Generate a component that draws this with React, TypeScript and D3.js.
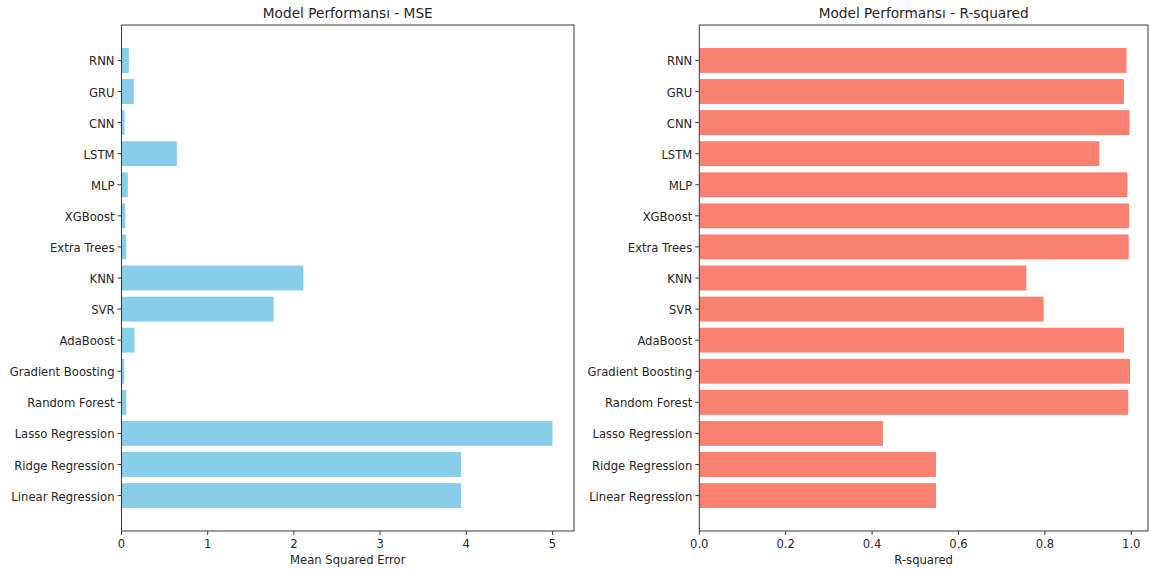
import React from "react";
import * as d3 from "d3";

const models = [
  "Linear Regression",
  "Ridge Regression",
  "Lasso Regression",
  "Random Forest",
  "Gradient Boosting",
  "AdaBoost",
  "SVR",
  "KNN",
  "Extra Trees",
  "XGBoost",
  "MLP",
  "LSTM",
  "CNN",
  "GRU",
  "RNN",
];

const mseValues = [3.94, 3.94, 5.0, 0.055, 0.031, 0.151, 1.765, 2.11, 0.055, 0.043, 0.073, 0.642, 0.035, 0.143, 0.085];
const r2Values = [0.548, 0.548, 0.425, 0.993, 0.997, 0.983, 0.797, 0.757, 0.994, 0.995, 0.991, 0.926, 0.996, 0.983, 0.989];

const mseTicks = [0, 1, 2, 3, 4, 5];
const r2Ticks = [0, 0.2, 0.4, 0.6, 0.8, 1.0];

const W = 1150;
const H = 572;
const TOP = 25;
const BOTTOM = 531;
const FONT = "DejaVu Sans, sans-serif";

type PanelProps = {
  x0: number;
  x1: number;
  values: number[];
  ticks: number[];
  domainMax: number;
  color: string;
  title: string;
  xlabel: string;
  fmt: (v: number) => string;
};

function Panel({ x0, x1, values, ticks, domainMax, color, title, xlabel, fmt }: PanelProps) {
  const x = d3.scaleLinear().domain([0, domainMax]).range([x0, x1]);
  // matplotlib-like y limits: categories 0..n-1, bars +-0.4, 5% margins
  const n = models.length;
  const lo = -0.4 - 0.05 * (n - 1 + 0.8);
  const hi = n - 1 + 0.4 + 0.05 * (n - 1 + 0.8);
  const y = d3.scaleLinear().domain([lo, hi]).range([BOTTOM, TOP]);
  const bandH = Math.abs(y(0.8) - y(0));
  const textColor = "#262626";
  const spine = "#3a3a3a";
  return (
    <g>
      {models.map((m, i) => (
        <rect
          key={m}
          x={x(0)}
          y={y(i + 0.4)}
          width={x(values[i]) - x(0)}
          height={bandH}
          fill={color}
        />
      ))}
      <rect x={x0} y={TOP} width={x1 - x0} height={BOTTOM - TOP} fill="none" stroke={spine} strokeWidth={1} />
      {models.map((m, i) => (
        <g key={m}>
          <line x1={x0 - 4} x2={x0} y1={y(i)} y2={y(i)} stroke={spine} strokeWidth={1} />
          <text x={x0 - 7} y={y(i) + 1} dy="0.35em" textAnchor="end" fontSize={11.6} fontFamily={FONT} fill={textColor}>
            {m}
          </text>
        </g>
      ))}
      {ticks.map((t) => (
        <g key={t}>
          <line x1={x(t)} x2={x(t)} y1={BOTTOM} y2={BOTTOM + 4} stroke={spine} strokeWidth={1} />
          <text x={x(t)} y={BOTTOM + 17} textAnchor="middle" fontSize={11.6} fontFamily={FONT} fill={textColor}>
            {fmt(t)}
          </text>
        </g>
      ))}
      <text x={(x0 + x1) / 2} y={564} textAnchor="middle" fontSize={11.6} fontFamily={FONT} fill={textColor}>
        {xlabel}
      </text>
      <text x={(x0 + x1) / 2} y={18} textAnchor="middle" fontSize={13.7} fontFamily={FONT} fill={textColor}>
        {title}
      </text>
    </g>
  );
}

export default function App() {
  return (
    <svg
      width={W}
      height={H}
      viewBox={`0 0 ${W} ${H}`}
      style={{ position: "absolute", left: 0, top: 0, background: "#fff" }}
    >
      <rect width={W} height={H} fill="#fff" />
      <Panel
        x0={121.5}
        x1={574}
        values={mseValues}
        ticks={mseTicks}
        domainMax={5.25}
        color="#87CEEB"
        title="Model Performansı - MSE"
        xlabel="Mean Squared Error"
        fmt={(v) => d3.format("d")(v)}
      />
      <Panel
        x0={699.3}
        x1={1148}
        values={r2Values}
        ticks={r2Ticks}
        domainMax={1.0387}
        color="#FA8072"
        title="Model Performansı - R-squared"
        xlabel="R-squared"
        fmt={(v) => d3.format(".1f")(v)}
      />
    </svg>
  );
}
